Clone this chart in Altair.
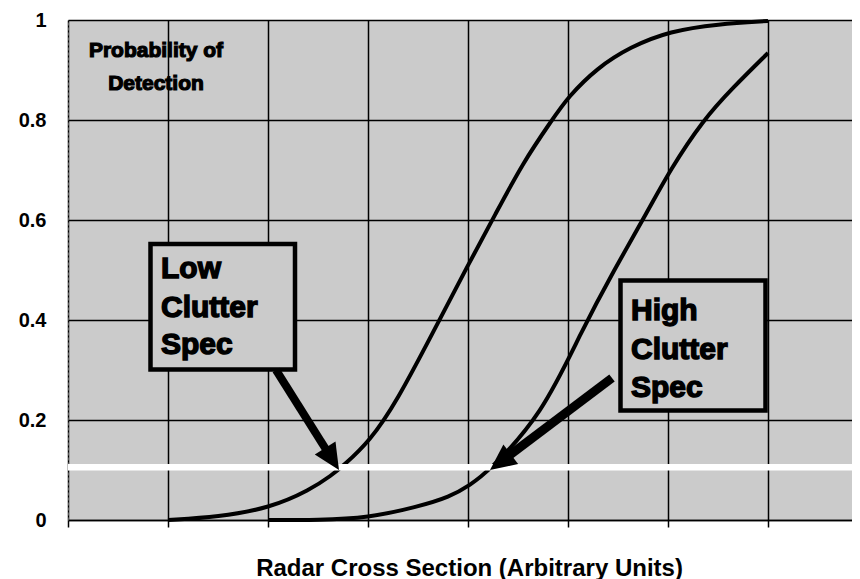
import math
import altair as alt
import pandas as pd

# ---------------- data ----------------
low_x = [1.0, 1.5, 2.02, 2.42, 2.64, 2.75, 3.02, 3.29, 3.65, 4.0, 4.27, 4.55, 4.84, 5.0, 5.29, 5.62, 6.02, 6.5, 7.0]
low_y = [0.0, 0.006, 0.024, 0.06, 0.09, 0.108, 0.158, 0.238, 0.375, 0.51, 0.61, 0.715, 0.80, 0.846, 0.904, 0.946, 0.978, 0.992, 0.998]

high_x = [2.0, 2.5, 3.0, 3.49, 3.82, 4.02, 4.2, 4.74, 5.14, 5.46, 5.79, 6.02, 6.35, 6.65, 7.0]
high_y = [0.0, 0.0, 0.004, 0.026, 0.046, 0.07, 0.096, 0.21, 0.38, 0.5, 0.615, 0.7, 0.80, 0.865, 0.934]

x_ticks = [0, 1, 2, 3, 4, 5, 6, 7]
y_ticks = [0, 0.2, 0.4, 0.6, 0.8, 1.0]
X_MAX = 7.84

x_title = "Radar Cross Section (Arbitrary Units)"
corner_lines = ["Probability of", "Detection"]
corner_x = [0.88, 0.88]
corner_y = [0.926, 0.86]

# annotation boxes
box_x1 = [0.825, 5.525]
box_x2 = [2.27, 6.975]
box_y1 = [0.301, 0.219]
box_y2 = [0.552, 0.479]

# annotation text lines
note_text = ["Low", "Clutter", "Spec", "High", "Clutter", "Spec"]
note_x = [0.93, 0.93, 0.93, 5.63, 5.63, 5.63]
note_y = [0.484, 0.406, 0.332, 0.40, 0.322, 0.246]

# arrows (tail -> tip)
arrow_tail_x = [2.08, 5.44]
arrow_tail_y = [0.30, 0.284]
arrow_tip_x = [2.71, 4.22]
arrow_tip_y = [0.10, 0.10]
arrow_width = [8, 9]

# white break band across the plot
band_y = [0.099]
band_y2 = [0.112]

# ---------------- layout ----------------
W, H = 784, 500
PX_X = W / X_MAX
PX_Y = H / 1.0
GRAY = "#cbcbcb"
FONT = "Liberation Sans"
HEAD = 26

xs = alt.Scale(domain=[0, X_MAX], nice=False, zero=False)
ys = alt.Scale(domain=[0, 1], nice=False, zero=False)

ax_x = alt.Axis(values=x_ticks, grid=True, gridColor="black", gridWidth=1.5,
                domainColor="black", domainWidth=1.5, tickColor="black",
                tickSize=7, tickWidth=1.5, labels=False, title=x_title,
                titleFont=FONT, titleFontSize=24, titleFontWeight="bold",
                titleColor="black", titleX=401, titleY=55,
                titleBaseline="alphabetic", titleAlign="center")
ax_y = alt.Axis(values=y_ticks, format=".1~f", grid=True, gridColor="black",
                gridWidth=1.5, domainColor="#555555", domainWidth=1,
                domainDash=[3, 2], ticks=False, labelFont=FONT,
                labelFontSize=20, labelFontWeight="bold", labelColor="black",
                labelPadding=22, title=None)


def X(field="x"):
    return alt.X(f"{field}:Q", scale=xs, axis=ax_x)


def Y(field="y"):
    return alt.Y(f"{field}:Q", scale=ys, axis=ax_y)


curves = pd.DataFrame({
    "x": low_x + high_x,
    "y": low_y + high_y,
    "series": ["Low clutter"] * len(low_x) + ["High clutter"] * len(high_x),
})

lines = alt.Chart(curves).mark_line(
    color="black", strokeWidth=4, interpolate="basis"
).encode(x=X(), y=Y(), detail="series:N")

band = alt.Chart(pd.DataFrame({"y": band_y, "y2": band_y2})).mark_rect(
    color="white"
).encode(x=alt.value(0), x2=alt.value(W), y=Y(), y2="y2:Q")

boxes = alt.Chart(pd.DataFrame({"x": box_x1, "x2": box_x2, "y": box_y1, "y2": box_y2})).mark_rect(
    fill=GRAY, stroke="black", strokeWidth=4.5
).encode(x=X(), x2="x2:Q", y=Y(), y2="y2:Q")

notes = alt.Chart(pd.DataFrame({"x": note_x, "y": note_y, "t": note_text})).mark_text(
    align="left", baseline="alphabetic", font=FONT, fontSize=30,
    fontWeight="bold", color="black", stroke="black", strokeWidth=1.4
).encode(x=X(), y=Y(), text="t:N")

corner = alt.Chart(pd.DataFrame({"x": corner_x, "y": corner_y, "t": corner_lines})).mark_text(
    align="center", baseline="alphabetic", font=FONT, fontSize=21,
    fontWeight="bold", color="black", stroke="black", strokeWidth=1.2
).encode(x=X(), y=Y(), text="t:N")

# arrows
rows = []
for tx, ty, hx, hy, sw in zip(arrow_tail_x, arrow_tail_y, arrow_tip_x, arrow_tip_y, arrow_width):
    dx = (hx - tx) * PX_X
    dys = -(hy - ty) * PX_Y
    L = math.hypot(dx, dys)
    ang = math.degrees(math.atan2(dx, -dys)) % 360
    f = (HEAD * 0.6) / L
    rows.append({
        "x": tx, "y": ty,
        "x2": hx - (hx - tx) * f, "y2": hy - (hy - ty) * f,
        "hx": hx, "hy": hy, "angle": ang, "sw": sw,
    })
arrows = pd.DataFrame(rows)

shafts = alt.Chart(arrows).mark_rule(color="black", strokeCap="butt").encode(
    x=X(), y=Y(), x2="x2:Q", y2="y2:Q",
    strokeWidth=alt.StrokeWidth("sw:Q", scale=None, legend=None),
)

heads = alt.Chart(arrows).mark_point(
    shape="M0,0L0.47,1L-0.47,1Z", filled=True, fill="black", opacity=1,
    strokeWidth=0, size=4 * HEAD * HEAD
).encode(
    x=X("hx"), y=Y("hy"),
    angle=alt.Angle("angle:Q", scale=None, legend=None),
)

chart = alt.layer(lines, band, boxes, notes, corner, shafts, heads).properties(
    width=W, height=H,
    autosize=alt.AutoSizeParams(type="none"),
    padding={"left": 60, "top": 12, "right": 0, "bottom": 59},
    background="white",
).configure_view(fill=GRAY, stroke="transparent")

chart.save("out.html", embed_options={"renderer": "svg", "actions": False})
